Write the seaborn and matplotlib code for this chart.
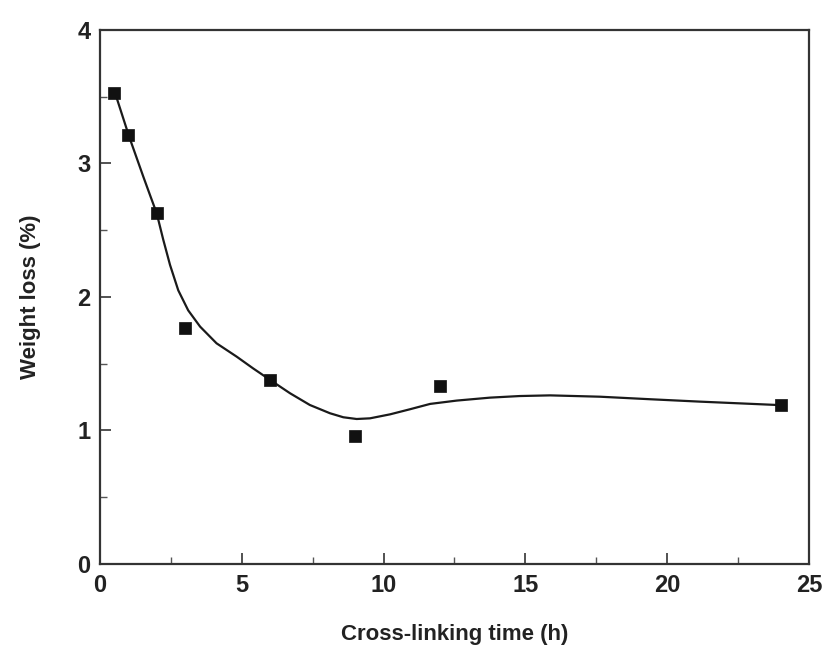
import matplotlib
matplotlib.use("Agg")
import matplotlib.pyplot as plt
from matplotlib.ticker import MultipleLocator
import seaborn as sns
import pandas as pd

# Measured weight loss vs. cross-linking time
time_h = [0.5, 1, 2, 3, 6, 9, 12, 24]
weight_loss = [3.53, 3.21, 2.63, 1.77, 1.38, 0.96, 1.33, 1.19]

# Smoothed trend line through the measurements
trend_x = [0.53, 0.78, 1.03, 1.28, 1.53, 1.77, 2.00, 2.23, 2.47, 2.76, 3.11,
           3.53, 4.11, 4.82, 5.40, 5.99, 6.70, 7.40, 8.11, 8.58, 9.05, 9.52,
           10.23, 10.93, 11.64, 12.58, 13.75, 14.8, 15.87, 17.63, 19.4,
           21.16, 22.9, 23.98]
trend_y = [3.53, 3.365, 3.20, 3.05, 2.90, 2.76, 2.627, 2.43, 2.24, 2.05,
           1.90, 1.778, 1.653, 1.553, 1.465, 1.38, 1.279, 1.191, 1.129,
           1.099, 1.086, 1.091, 1.121, 1.159, 1.199, 1.224, 1.246, 1.258,
           1.263, 1.253, 1.234, 1.216, 1.20, 1.19]

points = pd.DataFrame({"t": time_h, "w": weight_loss})
trend = pd.DataFrame({"t": trend_x, "w": trend_y})

sns.set_style("white")
plt.rcParams["font.family"] = ["Liberation Sans", "DejaVu Sans"]
plt.rcParams["font.weight"] = "bold"
plt.rcParams["lines.solid_joinstyle"] = "round"

fig = plt.figure(figsize=(8.29, 6.49), dpi=100)
ax = fig.add_axes([0.1206, 0.131, 0.8553, 0.8228])

sns.lineplot(data=trend, x="t", y="w", sort=False, color="#1a1a1a",
             linewidth=1.6, ax=ax)
sns.scatterplot(data=points, x="t", y="w", marker="s", s=78, color="#111111",
                edgecolor="#111111", linewidth=0.5, zorder=3, ax=ax)

ax.set_xlim(0, 25)
ax.set_ylim(0, 4)
ax.xaxis.set_major_locator(MultipleLocator(5))
ax.xaxis.set_minor_locator(MultipleLocator(2.5))
ax.yaxis.set_major_locator(MultipleLocator(1))
ax.yaxis.set_minor_locator(MultipleLocator(0.5))
ax.tick_params(which="major", direction="in", length=8, width=1.2,
               labelsize=17, colors="#333333", labelcolor="#222222", pad=7)
ax.tick_params(which="minor", direction="in", length=5, width=1.0,
               colors="#555555")
ax.tick_params(axis="both", which="both", top=False, right=False,
               bottom=True, left=True)
for lab in ax.get_xticklabels() + ax.get_yticklabels():
    lab.set_fontweight("bold")

for sp in ax.spines.values():
    sp.set_color("#333333")
    sp.set_linewidth(1.6)

ax.set_xlabel("Cross-linking time (h)", fontsize=16, fontweight="bold",
              color="#222222", labelpad=20)
ax.set_ylabel("Weight loss (%)", fontsize=16, fontweight="bold",
              color="#222222", labelpad=26)

fig.savefig("out.png", dpi=100, facecolor="white")
